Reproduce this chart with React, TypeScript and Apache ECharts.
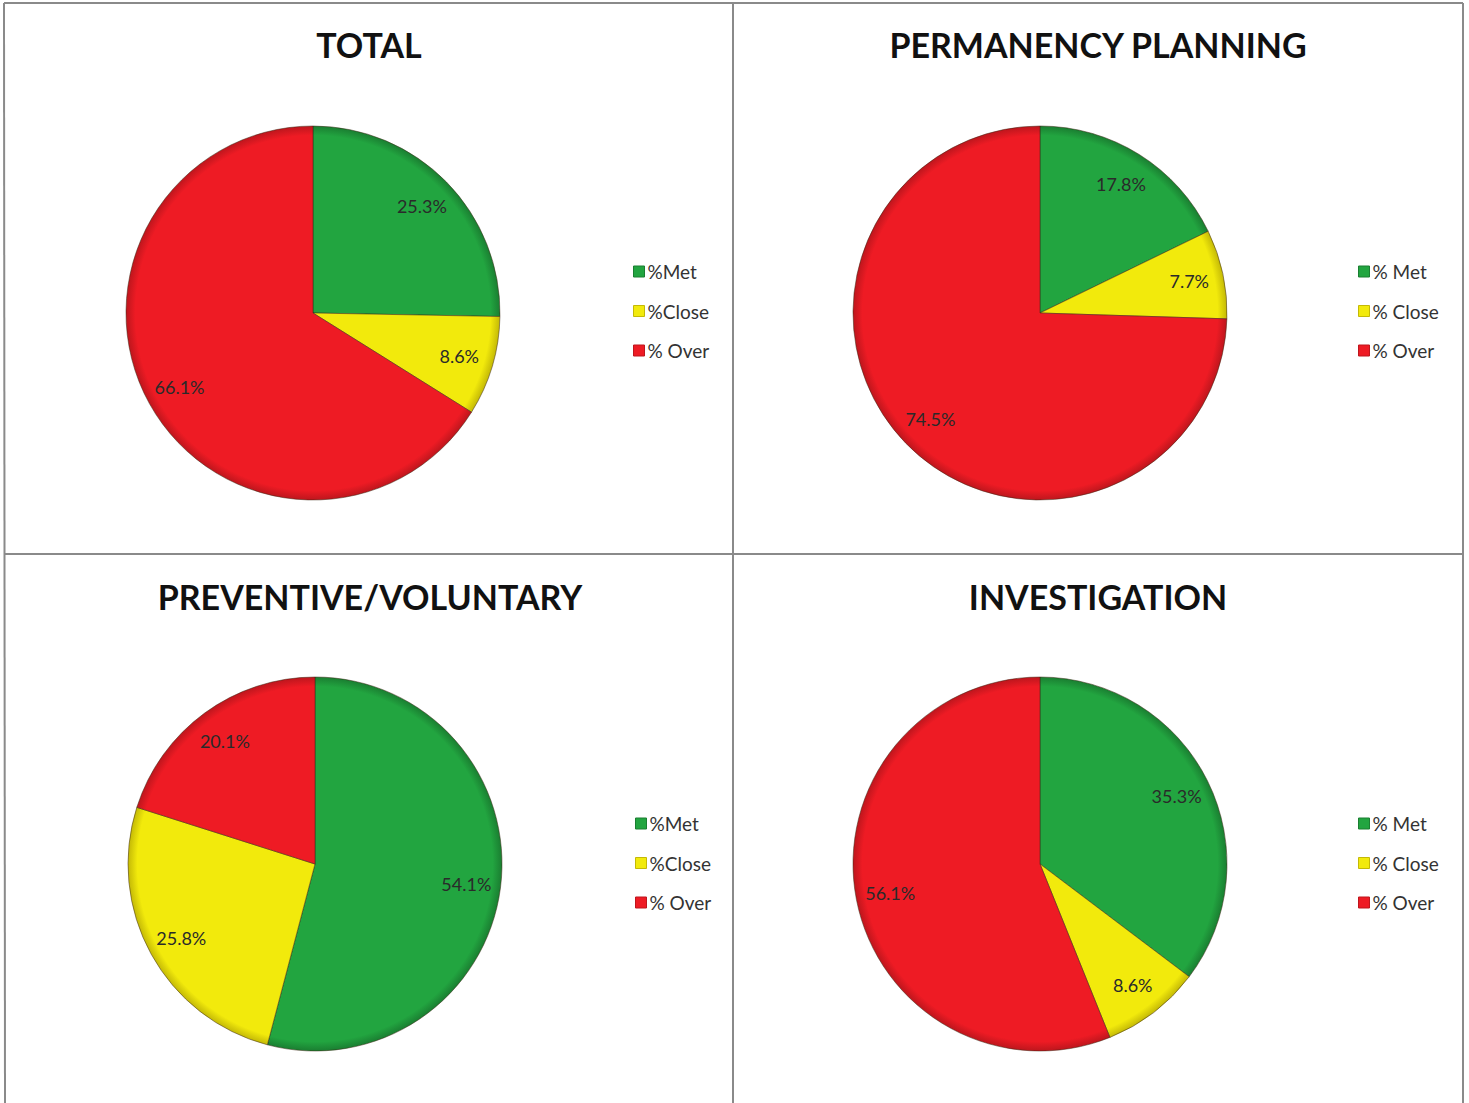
import React, { useEffect, useRef } from "react";
import * as echarts from "echarts";

const titles = ["TOTAL", "PERMANENCY PLANNING", "PREVENTIVE/VOLUNTARY", "INVESTIGATION"];
const namesLeft = ["%Met", "%Close", "% Over"];
const namesRight = ["% Met", "% Close", "% Over"];
const totalValues = [25.3, 8.6, 66.1];
const permanencyValues = [17.8, 7.7, 74.5];
const preventiveValues = [54.1, 25.8, 20.1];
const investigationValues = [35.3, 8.6, 56.1];

const baseColors = ["#22a540", "#f2ea0c", "#ee1b24"];
const edgeColors = ["#1a7e31", "#c4b906", "#bd161d"];

const R = 187;

const panels = [
  { title: titles[0], names: namesLeft, values: totalValues, cx: 313, cy: 313, tx: 369, ty: 22, lx: 628, ly: 257 },
  { title: titles[1], names: namesRight, values: permanencyValues, cx: 1040, cy: 313, tx: 1098, ty: 22, lx: 1353, ly: 257 },
  { title: titles[2], names: namesLeft, values: preventiveValues, cx: 315, cy: 864, tx: 370, ty: 574, lx: 630, ly: 809 },
  { title: titles[3], names: namesRight, values: investigationValues, cx: 1040, cy: 864, tx: 1098, ty: 574, lx: 1353, ly: 809 },
];

export default function App() {
  const ref = useRef<HTMLDivElement>(null);
  useEffect(() => {
    if (!ref.current) return;
    const chart = echarts.init(ref.current, null, { renderer: "svg" });
    const series: any[] = [];
    const title: any[] = [];
    const legend: any[] = [];
    panels.forEach((p, pi) => {
      const grad = (i: number) => ({
        type: "radial",
        x: p.cx,
        y: p.cy,
        r: R,
        global: true,
        colorStops: [
          { offset: 0, color: baseColors[i] },
          { offset: 0.95, color: baseColors[i] },
          { offset: 1, color: edgeColors[i] },
        ],
      });
      series.push({
        type: "pie",
        name: "pie" + pi,
        center: [p.cx, p.cy],
        radius: [0, R],
        startAngle: 90,
        clockwise: true,
        silent: true,
        label: { show: false },
        labelLine: { show: false },
        itemStyle: { borderColor: "rgba(60,40,20,0.5)", borderWidth: 1 },
        data: p.values.map((v, i) => ({ name: p.names[i], value: v, itemStyle: { color: grad(i) } })),
      });
      series.push({
        type: "pie",
        name: "lbl" + pi,
        center: [p.cx, p.cy],
        radius: [R * 0.6, R],
        startAngle: 90,
        clockwise: true,
        silent: true,
        legendHoverLink: false,
        itemStyle: { color: "rgba(0,0,0,0)", borderWidth: 0 },
        label: {
          show: true,
          position: "inner",
          formatter: (d: any) => d.value.toFixed(1) + "%",
          color: "#2a2a2a",
          fontSize: 18,
          fontFamily: "Lato, 'Open Sans', sans-serif",
        },
        labelLine: { show: false },
        data: p.values.map((v, i) => ({ name: p.names[i] + " ", value: v })),
      });
      title.push({
        text: p.title,
        left: p.tx - 5,
        top: p.ty,
        textAlign: "center",
        textStyle: { fontSize: 34, fontWeight: "bold", color: "#111", fontFamily: "Lato, 'Open Sans', sans-serif" },
      });
      legend.push({
        orient: "vertical",
        left: p.lx,
        top: p.ly,
        itemWidth: 11,
        itemHeight: 11,
        itemGap: 20.5,
        icon: "rect",
        selectedMode: false,
        textStyle: { fontSize: 19, color: "#333", fontFamily: "Lato, 'Open Sans', sans-serif", padding: [0, 0, 0, -2] },
        data: p.names.map((n, i) => ({ name: n, itemStyle: { color: baseColors[i], borderColor: edgeColors[i], borderWidth: 1 } })),
      });
    });

    const gray = "#8a8a8a";
    const graphic: any[] = [
      { type: "line", shape: { x1: 4, y1: 3, x2: 1463, y2: 3 }, style: { stroke: gray, lineWidth: 2 } },
      { type: "line", shape: { x1: 4, y1: 3, x2: 5, y2: 1103 }, style: { stroke: gray, lineWidth: 2 } },
      { type: "line", shape: { x1: 1463, y1: 3, x2: 1463, y2: 1103 }, style: { stroke: gray, lineWidth: 2 } },
      { type: "line", shape: { x1: 733, y1: 3, x2: 733, y2: 1103 }, style: { stroke: gray, lineWidth: 2 } },
      { type: "line", shape: { x1: 4, y1: 554, x2: 1463, y2: 554 }, style: { stroke: gray, lineWidth: 2 } },
    ];

    chart.setOption({
      animation: false,
      backgroundColor: "#ffffff",
      title,
      legend,
      series,
      graphic,
    });
    return () => chart.dispose();
  }, []);
  return (
    <div
      ref={ref}
      style={{ position: "fixed", left: 0, top: 0, width: 1469, height: 1103 }}
    />
  );
}
